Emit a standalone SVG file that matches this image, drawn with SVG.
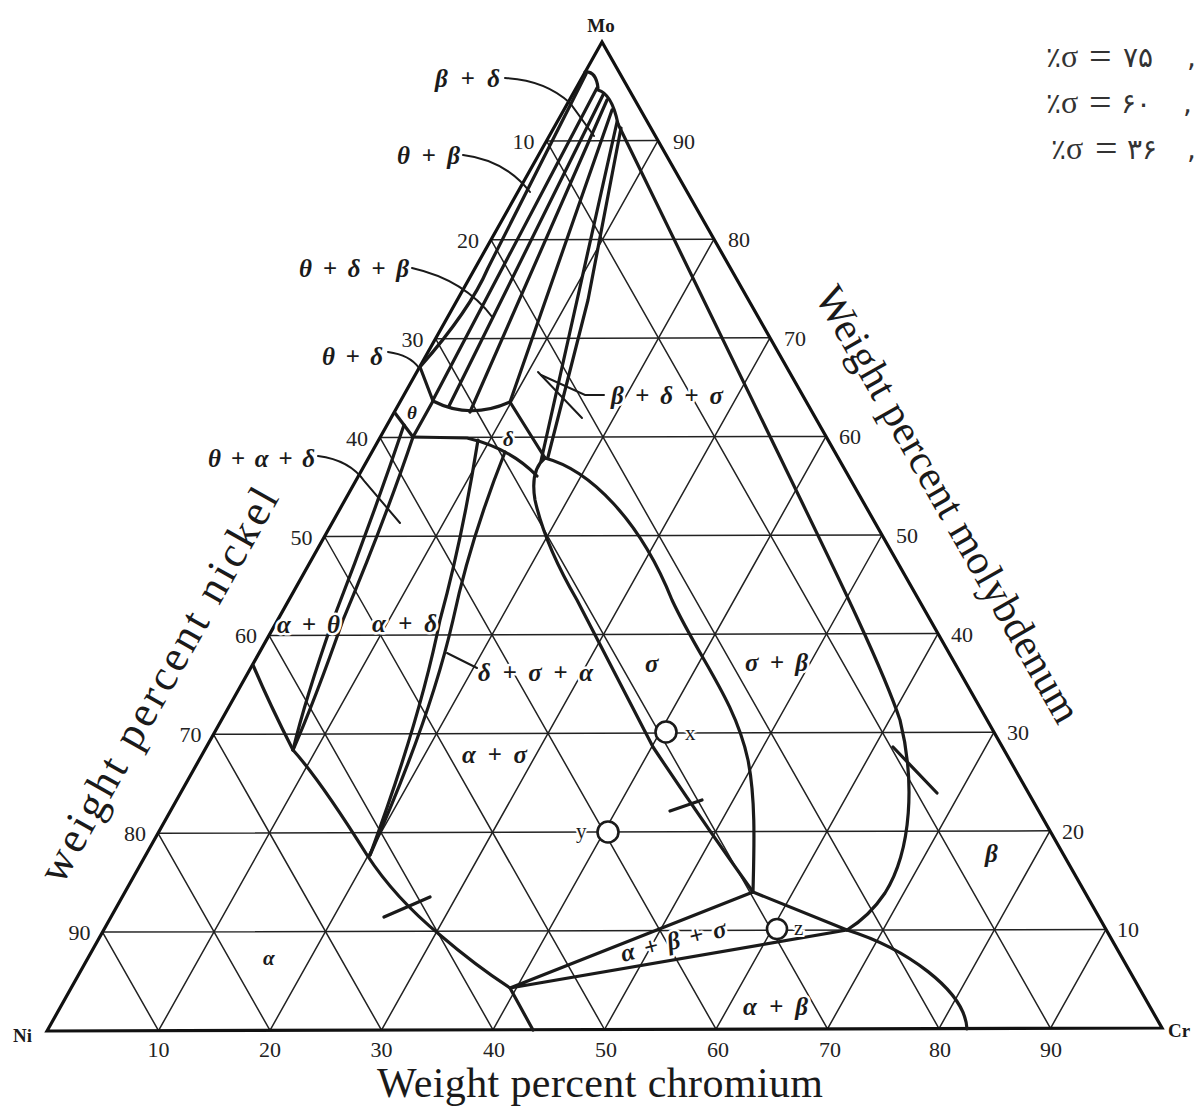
<svg xmlns="http://www.w3.org/2000/svg" width="1195" height="1107" viewBox="0 0 1195 1107">
<style>
.grid{fill:none;stroke:#222;stroke-width:1.5}
.edge{fill:none;stroke:#111;stroke-width:3.2;stroke-linejoin:miter}
.ph{fill:none;stroke:#1a1a1a;stroke-width:3.2;stroke-linejoin:round;stroke-linecap:round}
.ld{fill:none;stroke:#1a1a1a;stroke-width:2;stroke-linecap:round}
.tk{font-family:"Liberation Serif","Times New Roman",serif;font-size:22px;fill:#222}
.lb{font-family:"Liberation Serif","Times New Roman",serif;font-size:25px;font-weight:bold;font-style:italic;fill:#1a1a1a;stroke:#fff;stroke-width:5;paint-order:stroke;stroke-linejoin:round}
.pt{font-family:"Liberation Serif","Times New Roman",serif;font-size:21px;fill:#1a1a1a;stroke:#fff;stroke-width:4;paint-order:stroke}
.ax{font-family:"Liberation Serif","Times New Roman",serif;font-size:42px;fill:#1a1a1a}
.cn{font-family:"Liberation Serif","Times New Roman",serif;font-size:19px;font-weight:bold;fill:#1a1a1a}
.fa{font-family:"DejaVu Sans","Noto Sans",sans-serif;font-size:28px;fill:#333}
.fs{font-family:"Liberation Serif","Times New Roman",serif;font-size:32px;fill:#333}
.fe{font-family:"Liberation Serif","Times New Roman",serif;font-size:40px;fill:#333}
.pc{fill:#fff;stroke:#1a1a1a;stroke-width:2.6}
</style>
<rect width="1195" height="1107" fill="#fff"/>
<g id="grid">
<path class="grid" d="M102.5,932.1 L1106,929.4 M158,833.2 L1050,830.8 M213.5,734.3 L994,732.2 M269,635.4 L938,633.6 M324.5,536.5 L882,535 M380,437.6 L826,436.4 M435.5,338.7 L770,337.8 M491,239.8 L714,239.2 M546.5,140.9 L658,140.6"/>
<path class="grid" d="M158.5,1030.7 L658,140.6 M270,1030.4 L714,239.2 M381.5,1030.1 L770,337.8 M493,1029.8 L826,436.4 M604.5,1029.5 L882,535 M716,1029.2 L938,633.6 M827.5,1028.9 L994,732.2 M939,1028.6 L1050,830.8 M1050.5,1028.3 L1106,929.4"/>
<path class="grid" d="M546.5,140.9 L1050.5,1028.3 M491,239.8 L939,1028.6 M435.5,338.7 L827.5,1028.9 M380,437.6 L716,1029.2 M324.5,536.5 L604.5,1029.5 M269,635.4 L493,1029.8 M213.5,734.3 L381.5,1030.1 M158,833.2 L270,1030.4 M102.5,932.1 L158.5,1030.7"/>
</g>
<g id="triangle">
<path class="edge" d="M47,1031 L602,42 L1162,1028 Z"/>
</g>
<g id="boundaries">
<path class="ph" d="M585,72 Q596,71 598,88"/>
<path class="ph" d="M598,90 Q612,94 618,124"/>
<path class="ph" d="M586,74 L488,268 Q470,310 420,367"/>
<path class="ph" d="M597,88 L433,400"/>
<path class="ph" d="M603,95 L449,406"/>
<path class="ph" d="M607,100 L470,412"/>
<path class="ph" d="M612,110 L510,402"/>
<path class="ph" d="M617,122 L541,461"/>
<path class="ph" d="M621,128 L588,300 L548,457"/>
<path class="ph" d="M618,124 L780,457 C820,540 880,660 900,720 C915,780 912,850 885,893 C875,908 860,922 847,930"/>
<path class="ph" d="M420,367 L433,401 L413,437 L395,413"/>
<path class="ph" d="M433,401 Q470,420 510,402"/>
<path class="ph" d="M510,402 L545,458"/>
<path class="ph" d="M413,437 L467,438 Q510,448 537,476"/>
<path class="ph" d="M545,458 Q530,470 535,500 Q545,545 577,600 L653,747 Q705,825 753,892"/>
<path class="ph" d="M545,458 C590,470 640,520 672,600 C700,660 735,700 748,760 C756,800 754,850 753,892"/>
<path class="ph" d="M404,425 Q372,520 333,620 Q305,700 293,750"/>
<path class="ph" d="M413,437 Q385,520 343,620 Q315,700 293,750"/>
<path class="ph" d="M478,440 Q462,540 440,620 Q420,720 370,855"/>
<path class="ph" d="M505,452 Q470,540 453,620 Q430,720 370,855"/>
<path class="ph" d="M253,665 Q270,705 293,750 Q320,780 367,855 Q395,898 440,935 Q475,965 510,988"/>
<path class="ph" d="M510,988 L753,892 L847,930 L510,988 L533,1030"/>
<path class="ph" d="M847,930 C905,948 965,990 967,1029"/>
<path class="ph" d="M670,811 L702,800 M893,747 L937,793 M384,917 L430,897"/>
</g>
<g id="leaders">
<path class="ld" d="M505,78 Q545,80 570,103 L594,136"/>
<path class="ld" d="M463,155 Q505,160 530,192"/>
<path class="ld" d="M412,268 Q465,280 493,318"/>
<path class="ld" d="M388,352 Q410,355 419,368"/>
<path class="ld" d="M318,456 Q350,460 365,482 L400,523"/>
<path class="ld" d="M604,395 L585,395 L541,375"/>
<path class="ld" d="M538,372 L582,418"/>
<path class="ld" d="M447,653 L477,668"/>
</g>
<g id="labels">
<text class="lb" x="435" y="87" textLength="65">β + δ</text>
<text class="lb" x="397" y="164" textLength="63">θ + β</text>
<text class="lb" x="299" y="277" textLength="110">θ + δ + β</text>
<text class="lb" x="322" y="365" textLength="61">θ + δ</text>
<text class="lb" x="407" y="419" style="font-size:19px">θ</text>
<text class="lb" x="208" y="467" textLength="107">θ + α + δ</text>
<text class="lb" x="503" y="446" style="font-size:21px">δ</text>
<text class="lb" x="611" y="404" textLength="112">β + δ + σ</text>
<text class="lb" x="277" y="633" textLength="63">α + θ</text>
<text class="lb" x="372" y="632" textLength="65">α + δ</text>
<text class="lb" x="478" y="681" textLength="115">δ + σ + α</text>
<text class="lb" x="645" y="672">σ</text>
<text class="lb" x="745" y="671" textLength="63">σ + β</text>
<text class="lb" x="462" y="763" textLength="65">α + σ</text>
<text class="lb" x="985" y="862">β</text>
<text class="lb" x="263" y="965" style="font-size:21px">α</text>
<text class="lb" transform="translate(623,962) rotate(-14)" textLength="108">α + β + σ</text>
<text class="lb" x="743" y="1015" textLength="65">α + β</text>
</g>
<g id="points">
<circle class="pc" cx="666" cy="732" r="10.5"/>
<text class="pt" x="685" y="740">x</text>
<circle class="pc" cx="608" cy="832" r="10.5"/>
<text class="pt" x="576" y="838">y</text>
<circle class="pc" cx="777" cy="929" r="10"/>
<text class="pt" x="794" y="935">z</text>
</g>
<g id="ticks">
<g class="tk" text-anchor="end">
<text x="534.5" y="149">10</text><text x="479" y="248">20</text><text x="423.5" y="347">30</text><text x="368" y="446">40</text><text x="312.5" y="545">50</text><text x="257" y="643">60</text><text x="201.5" y="742">70</text><text x="146" y="841">80</text><text x="90.5" y="940">90</text>
</g>
<g class="tk">
<text x="673" y="149">90</text><text x="728" y="247">80</text><text x="784" y="346">70</text><text x="839" y="444">60</text><text x="896" y="543">50</text><text x="951" y="642">40</text><text x="1007" y="740">30</text><text x="1062" y="839">20</text><text x="1117" y="937">10</text>
</g>
<g class="tk" text-anchor="middle">
<text x="158.5" y="1057">10</text><text x="270" y="1057">20</text><text x="381.5" y="1057">30</text><text x="494" y="1057">40</text><text x="606" y="1057">50</text><text x="718" y="1057">60</text><text x="830" y="1057">70</text><text x="940" y="1057">80</text><text x="1051" y="1057">90</text>
</g>
</g>
<g id="corners">
<text class="cn" x="601" y="32" text-anchor="middle">Mo</text>
<text class="cn" x="13" y="1042">Ni</text>
<text class="cn" x="1168" y="1037">Cr</text>
</g>
<g id="axis-titles">
<text class="ax" x="377" y="1097" textLength="446">Weight percent chromium</text>
<text class="ax" transform="translate(62,886) rotate(-60.7)" textLength="445" style="font-size:44px">weight percent nickel</text>
<text class="ax" transform="translate(814,296) rotate(60.4)" textLength="495">Weight percent molybdenum</text>
</g>
<g id="notes">
<text class="fa" x="1046" y="67">٪<tspan class="fs">σ</tspan></text><text class="fe" x="1089" y="70">=</text><text class="fa" x="1123" y="67">۷۵</text><text class="fa" x="1187" y="67">,</text>
<text class="fa" x="1046" y="113">٪<tspan class="fs">σ</tspan></text><text class="fe" x="1089" y="116">=</text><text class="fa" x="1121" y="113">۶۰</text><text class="fa" x="1183" y="113">,</text>
<text class="fa" x="1051" y="159">٪<tspan class="fs">σ</tspan></text><text class="fe" x="1095" y="162">=</text><text class="fa" x="1127" y="159">۳۶</text><text class="fa" x="1187" y="159">,</text>
</g>
</svg>
